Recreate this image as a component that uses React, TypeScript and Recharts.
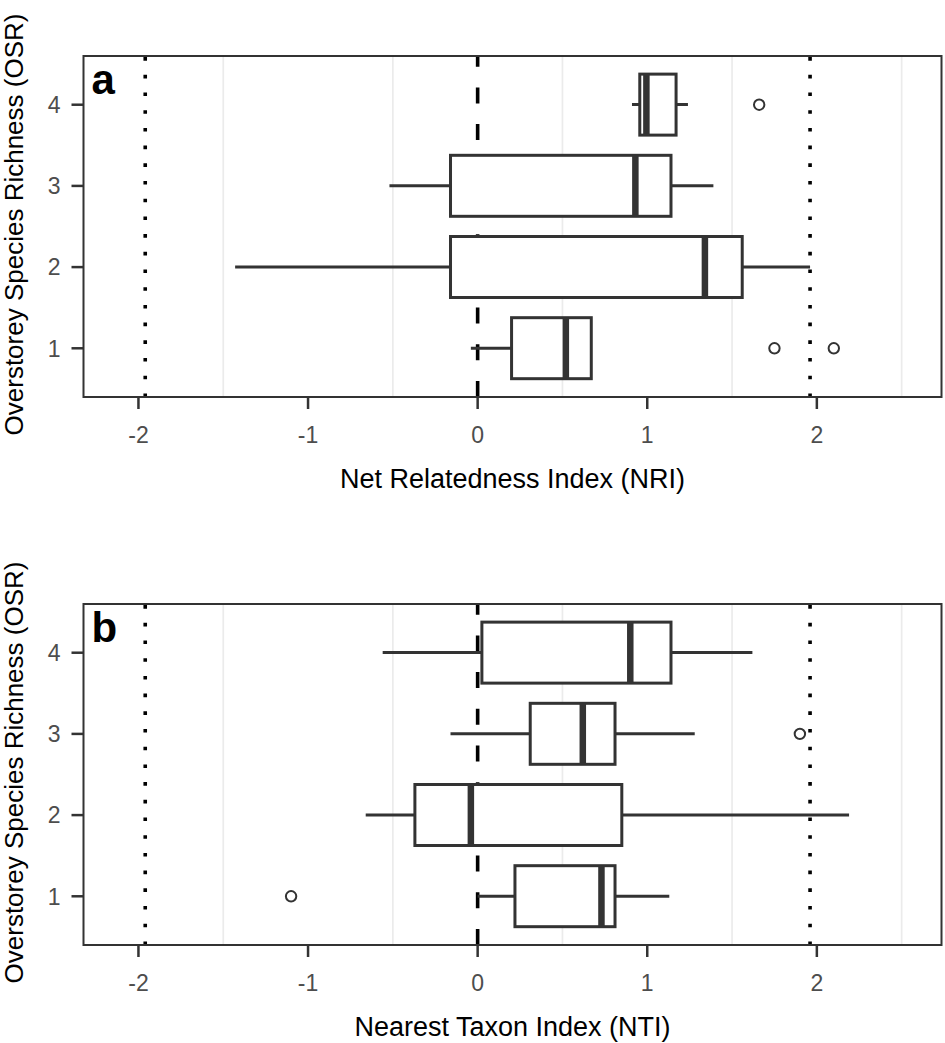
import React from 'react';
import { ComposedChart, Bar, XAxis, YAxis, ReferenceLine, ReferenceArea, ReferenceDot, Label } from 'recharts';

// categories (overstorey species richness)
const OSR = [1, 2, 3, 4];

// panel a: Net Relatedness Index
const NRI_WHISKER_LOW = [-0.04, -1.43, -0.52, 0.91];
const NRI_Q1 = [0.2, -0.16, -0.16, 0.956];
const NRI_MEDIAN = [0.52, 1.34, 0.93, 0.995];
const NRI_Q3 = [0.67, 1.56, 1.14, 1.17];
const NRI_WHISKER_HIGH = [0.67, 1.96, 1.39, 1.24];
const NRI_OUTLIERS = [
  { osr: 1, v: 1.75 },
  { osr: 1, v: 2.1 },
  { osr: 4, v: 1.66 },
];

// panel b: Nearest Taxon Index
const NTI_WHISKER_LOW = [0.0, -0.66, -0.16, -0.56];
const NTI_Q1 = [0.22, -0.37, 0.31, 0.025];
const NTI_MEDIAN = [0.73, -0.04, 0.62, 0.9];
const NTI_Q3 = [0.81, 0.85, 0.81, 1.14];
const NTI_WHISKER_HIGH = [1.13, 2.19, 1.28, 1.62];
const NTI_OUTLIERS = [
  { osr: 1, v: -1.1 },
  { osr: 3, v: 1.9 },
];

const X_TICKS = [-2, -1, 0, 1, 2];
const X_MINOR = [-1.5, -0.5, 0.5, 1.5, 2.5];
const X_DOMAIN = [-2.324, 2.735];
const Y_DOMAIN = [0.4, 4.6];
const SIG_LIMITS = [-1.96, 1.96];

const FONT = '"Liberation Sans", Arial, sans-serif';
const INK = '#333333';
const TICK_GREY = '#4d4d4d';

const buildRows = (lo: number[], q1: number[], med: number[], q3: number[], hi: number[]) =>
  OSR.map((osr, i) => ({ osr, lo: lo[i], q1: q1[i], med: med[i], q3: q3[i], hi: hi[i] }));

// whole boxplot drawn from the range bar [lo, hi]; inner positions interpolated on its scale
const BoxShape = (props: any) => {
  const { x, y, width, height, payload } = props;
  const { lo, q1, med, q3, hi } = payload;
  const span = hi - lo || 1;
  const px = (v: number) => x + ((v - lo) / span) * width;
  const cy = y + height / 2;
  return (
    <g>
      <line x1={px(lo)} x2={px(q1)} y1={cy} y2={cy} stroke={INK} strokeWidth={3} />
      <line x1={px(q3)} x2={px(hi)} y1={cy} y2={cy} stroke={INK} strokeWidth={3} />
      <rect x={px(q1)} y={y} width={px(q3) - px(q1)} height={height} fill="#fff" stroke={INK} strokeWidth={3} />
      <line x1={px(med)} x2={px(med)} y1={y} y2={y + height} stroke={INK} strokeWidth={6.5} />
    </g>
  );
};

const XTick = (p: any) => (
  <text
    x={p.x}
    y={p.y}
    dy="0.71em"
    textAnchor="middle"
    fill={TICK_GREY}
    style={{ fontSize: '23px', fontFamily: FONT }}
  >
    {p.payload?.value}
  </text>
);

const YTick = (p: any) => (
  <text
    x={p.x}
    y={p.y}
    dy="0.36em"
    textAnchor="end"
    fill={TICK_GREY}
    style={{ fontSize: '23px', fontFamily: FONT }}
  >
    {p.payload?.value}
  </text>
);

interface PanelProps {
  letter: string;
  rows: any[];
  outliers: { osr: number; v: number }[];
  xTitle: string;
}

const Panel: React.FC<PanelProps> = ({ letter, rows, outliers, xTitle }) => (
  <ComposedChart
    width={945}
    height={495}
    layout="vertical"
    data={rows}
    margin={{ top: 56, right: 3.5, bottom: 0, left: 0.5 }}
    style={{ fontFamily: FONT, fontSize: 23 }}
  >
    <XAxis
      type="number"
      dataKey="v"
      domain={X_DOMAIN}
      ticks={X_TICKS}
      allowDataOverflow
      axisLine={false}
      tickLine={{ stroke: INK, strokeWidth: 2.5 }}
      tickSize={12}
      tickMargin={18}
      height={98}
      tick={<XTick />}
    >
      <Label
        content={(p: any) => (
          <text
            x={p.viewBox.x + p.viewBox.width / 2}
            y={p.viewBox.y + 91}
            textAnchor="middle"
            fontSize={27}
            fill="#000"
            fontFamily={FONT}
          >
            {xTitle}
          </text>
        )}
      />
    </XAxis>
    <YAxis
      type="number"
      dataKey="osr"
      domain={Y_DOMAIN}
      ticks={OSR}
      reversed
      allowDataOverflow
      width={83}
      axisLine={false}
      tickLine={{ stroke: INK, strokeWidth: 2.5 }}
      tickSize={12}
      tickMargin={11}
      tick={<YTick />}
    >
      <Label
        content={(p: any) => {
          const cx = 23;
          const cy = p.viewBox.y + p.viewBox.height / 2 - 2;
          return (
            <text
              x={cx}
              y={cy}
              transform={`rotate(-90, ${cx}, ${cy})`}
              textAnchor="middle"
              fontSize={26}
              fill="#000"
              fontFamily={FONT}
            >
              Overstorey Species Richness (OSR)
            </text>
          );
        }}
      />
    </YAxis>

    {X_MINOR.map((v) => (
      <ReferenceLine key={`g${v}`} x={v} stroke="#ebebeb" strokeWidth={1.7} zIndex={-50} />
    ))}
    {SIG_LIMITS.map((v) => (
      <ReferenceLine key={`s${v}`} x={v} stroke="#000" strokeWidth={3.6} strokeDasharray="3.6 14.1" zIndex={-40} />
    ))}
    <ReferenceLine x={0} stroke="#000" strokeWidth={3.6} strokeDasharray="16 20.7" zIndex={-40} />

    <Bar
      dataKey={(d: any) => [d.lo, d.hi]}
      barSize={61}
      shape={BoxShape}
      isAnimationActive={false}
    />

    {outliers.map((o, i) => (
      <ReferenceDot key={i} x={o.v} y={o.osr} r={5.2} fill="#fff" stroke={INK} strokeWidth={2} />
    ))}

    <ReferenceArea
      x1={X_DOMAIN[0]}
      x2={X_DOMAIN[1]}
      y1={Y_DOMAIN[0]}
      y2={Y_DOMAIN[1]}
      fill="none"
      fillOpacity={0}
      stroke={INK}
      strokeWidth={2}
    >
      <Label
        content={(p: any) => (
          <text
            x={p.viewBox.x + 8}
            y={p.viewBox.y + 38}
            fontSize={42}
            fontWeight="bold"
            fill="#000"
            fontFamily={FONT}
          >
            {letter}
          </text>
        )}
      />
    </ReferenceArea>
  </ComposedChart>
);

export default function App() {
  const nriRows = buildRows(NRI_WHISKER_LOW, NRI_Q1, NRI_MEDIAN, NRI_Q3, NRI_WHISKER_HIGH);
  const ntiRows = buildRows(NTI_WHISKER_LOW, NTI_Q1, NTI_MEDIAN, NTI_Q3, NTI_WHISKER_HIGH);
  return (
    <div style={{ position: 'absolute', left: 0, top: 0, width: 945, height: 1043, background: '#fff' }}>
      <div style={{ position: 'absolute', left: 0, top: 0 }}>
        <Panel letter="a" rows={nriRows} outliers={NRI_OUTLIERS} xTitle="Net Relatedness Index (NRI)" />
      </div>
      <div style={{ position: 'absolute', left: 0, top: 548 }}>
        <Panel letter="b" rows={ntiRows} outliers={NTI_OUTLIERS} xTitle="Nearest Taxon Index (NTI)" />
      </div>
    </div>
  );
}
